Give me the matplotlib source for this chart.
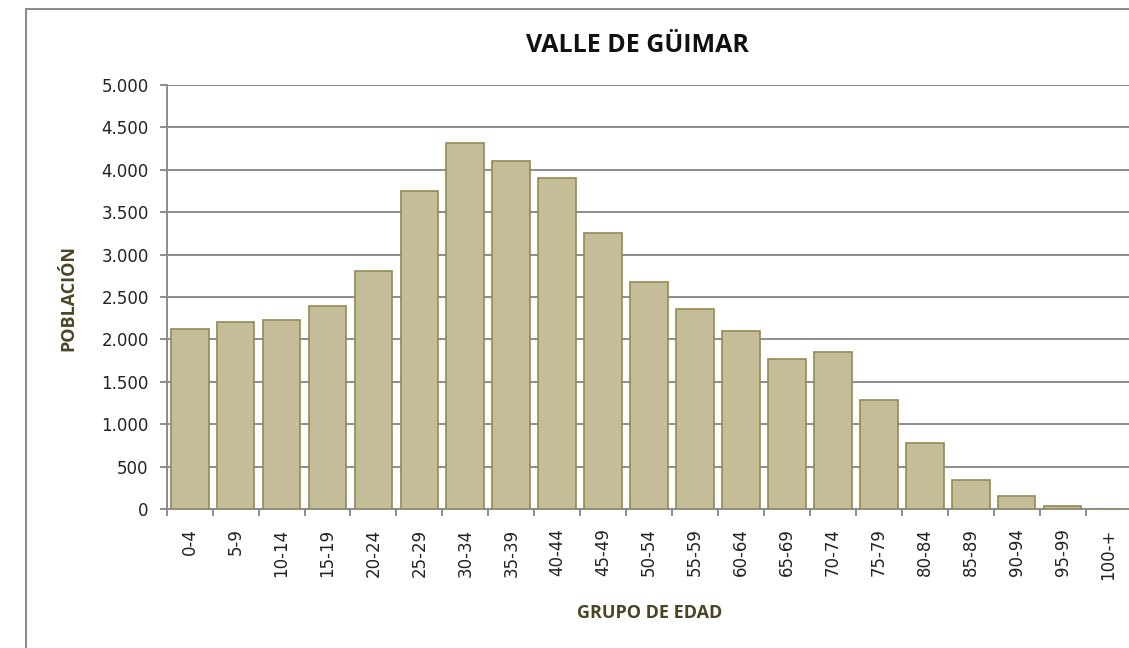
import numpy as np
import matplotlib.pyplot as plt
from matplotlib.patches import Rectangle
from matplotlib.ticker import FuncFormatter

grupos = ['0-4', '5-9', '10-14', '15-19', '20-24', '25-29', '30-34', '35-39',
          '40-44', '45-49', '50-54', '55-59', '60-64', '65-69', '70-74',
          '75-79', '80-84', '85-89', '90-94', '95-99', '100-+']
poblacion = [2128, 2202, 2225, 2398, 2810, 3746, 4316, 4100, 3903, 3259,
             2673, 2358, 2104, 1773, 1851, 1282, 778, 347, 150, 32, 3]

gris = '#8c8c8c'
marron = '#4b4526'

fig = plt.figure(figsize=(11.29, 6.48), dpi=100)
# marco exterior del grafico
fig.patches.append(Rectangle((26 / 1129, -0.1), 1.2, 1.1 - 9 / 648, transform=fig.transFigure,
                             fill=False, edgecolor=gris, linewidth=1.5))

ax = fig.add_axes([166.7 / 1129, 1 - 509 / 648, (1131.5 - 166.7) / 1129, (509 - 85) / 648])
x = np.arange(len(grupos))
ax.bar(x, poblacion, width=0.82, color='#c4bd97', edgecolor='#948a54', linewidth=1.2, zorder=3)

ax.set_xlim(-0.5, len(grupos) - 0.5)
ax.set_ylim(0, 5000)
ax.set_yticks(np.arange(0, 5001, 500))
ax.yaxis.set_major_formatter(FuncFormatter(lambda v, p: f'{int(v):,}'.replace(',', '.')))
ax.grid(axis='y', color=gris, linewidth=1.4, zorder=0)

# ticks en los limites de categoria, etiquetas centradas
ax.set_xticks(np.arange(-0.5, len(grupos), 1.0))
ax.set_xticklabels([])
ax.set_xticks(x, minor=True)
ax.set_xticklabels(grupos, minor=True, rotation=90, fontsize=12, color='#222222')
ax.tick_params(axis='x', which='minor', length=0, pad=14)
ax.tick_params(axis='x', which='major', length=5, color=gris, width=1.4)
ax.tick_params(axis='y', length=5, color=gris, width=1.4, labelsize=12, labelcolor='#222222', pad=8)

for s in ['top', 'right']:
    ax.spines[s].set_visible(False)
for s in ['left', 'bottom']:
    ax.spines[s].set_color(gris)
    ax.spines[s].set_linewidth(1.4)

fig.text(637 / 1129, 1 - 45 / 648, 'VALLE DE GÜIMAR', ha='center', va='center',
         fontsize=18, fontweight='bold', family='Open Sans', color='#111111')
fig.text(68 / 1129, 1 - 298 / 648, 'POBLACIÓN', rotation=90, ha='center', va='center',
         fontsize=13, fontweight='bold', family='Open Sans', color=marron)
fig.text(650 / 1129, 1 - 613 / 648, 'GRUPO DE EDAD', ha='center', va='center',
         fontsize=13, fontweight='bold', family='Open Sans', color=marron)

fig.savefig('out.png', dpi=100)
